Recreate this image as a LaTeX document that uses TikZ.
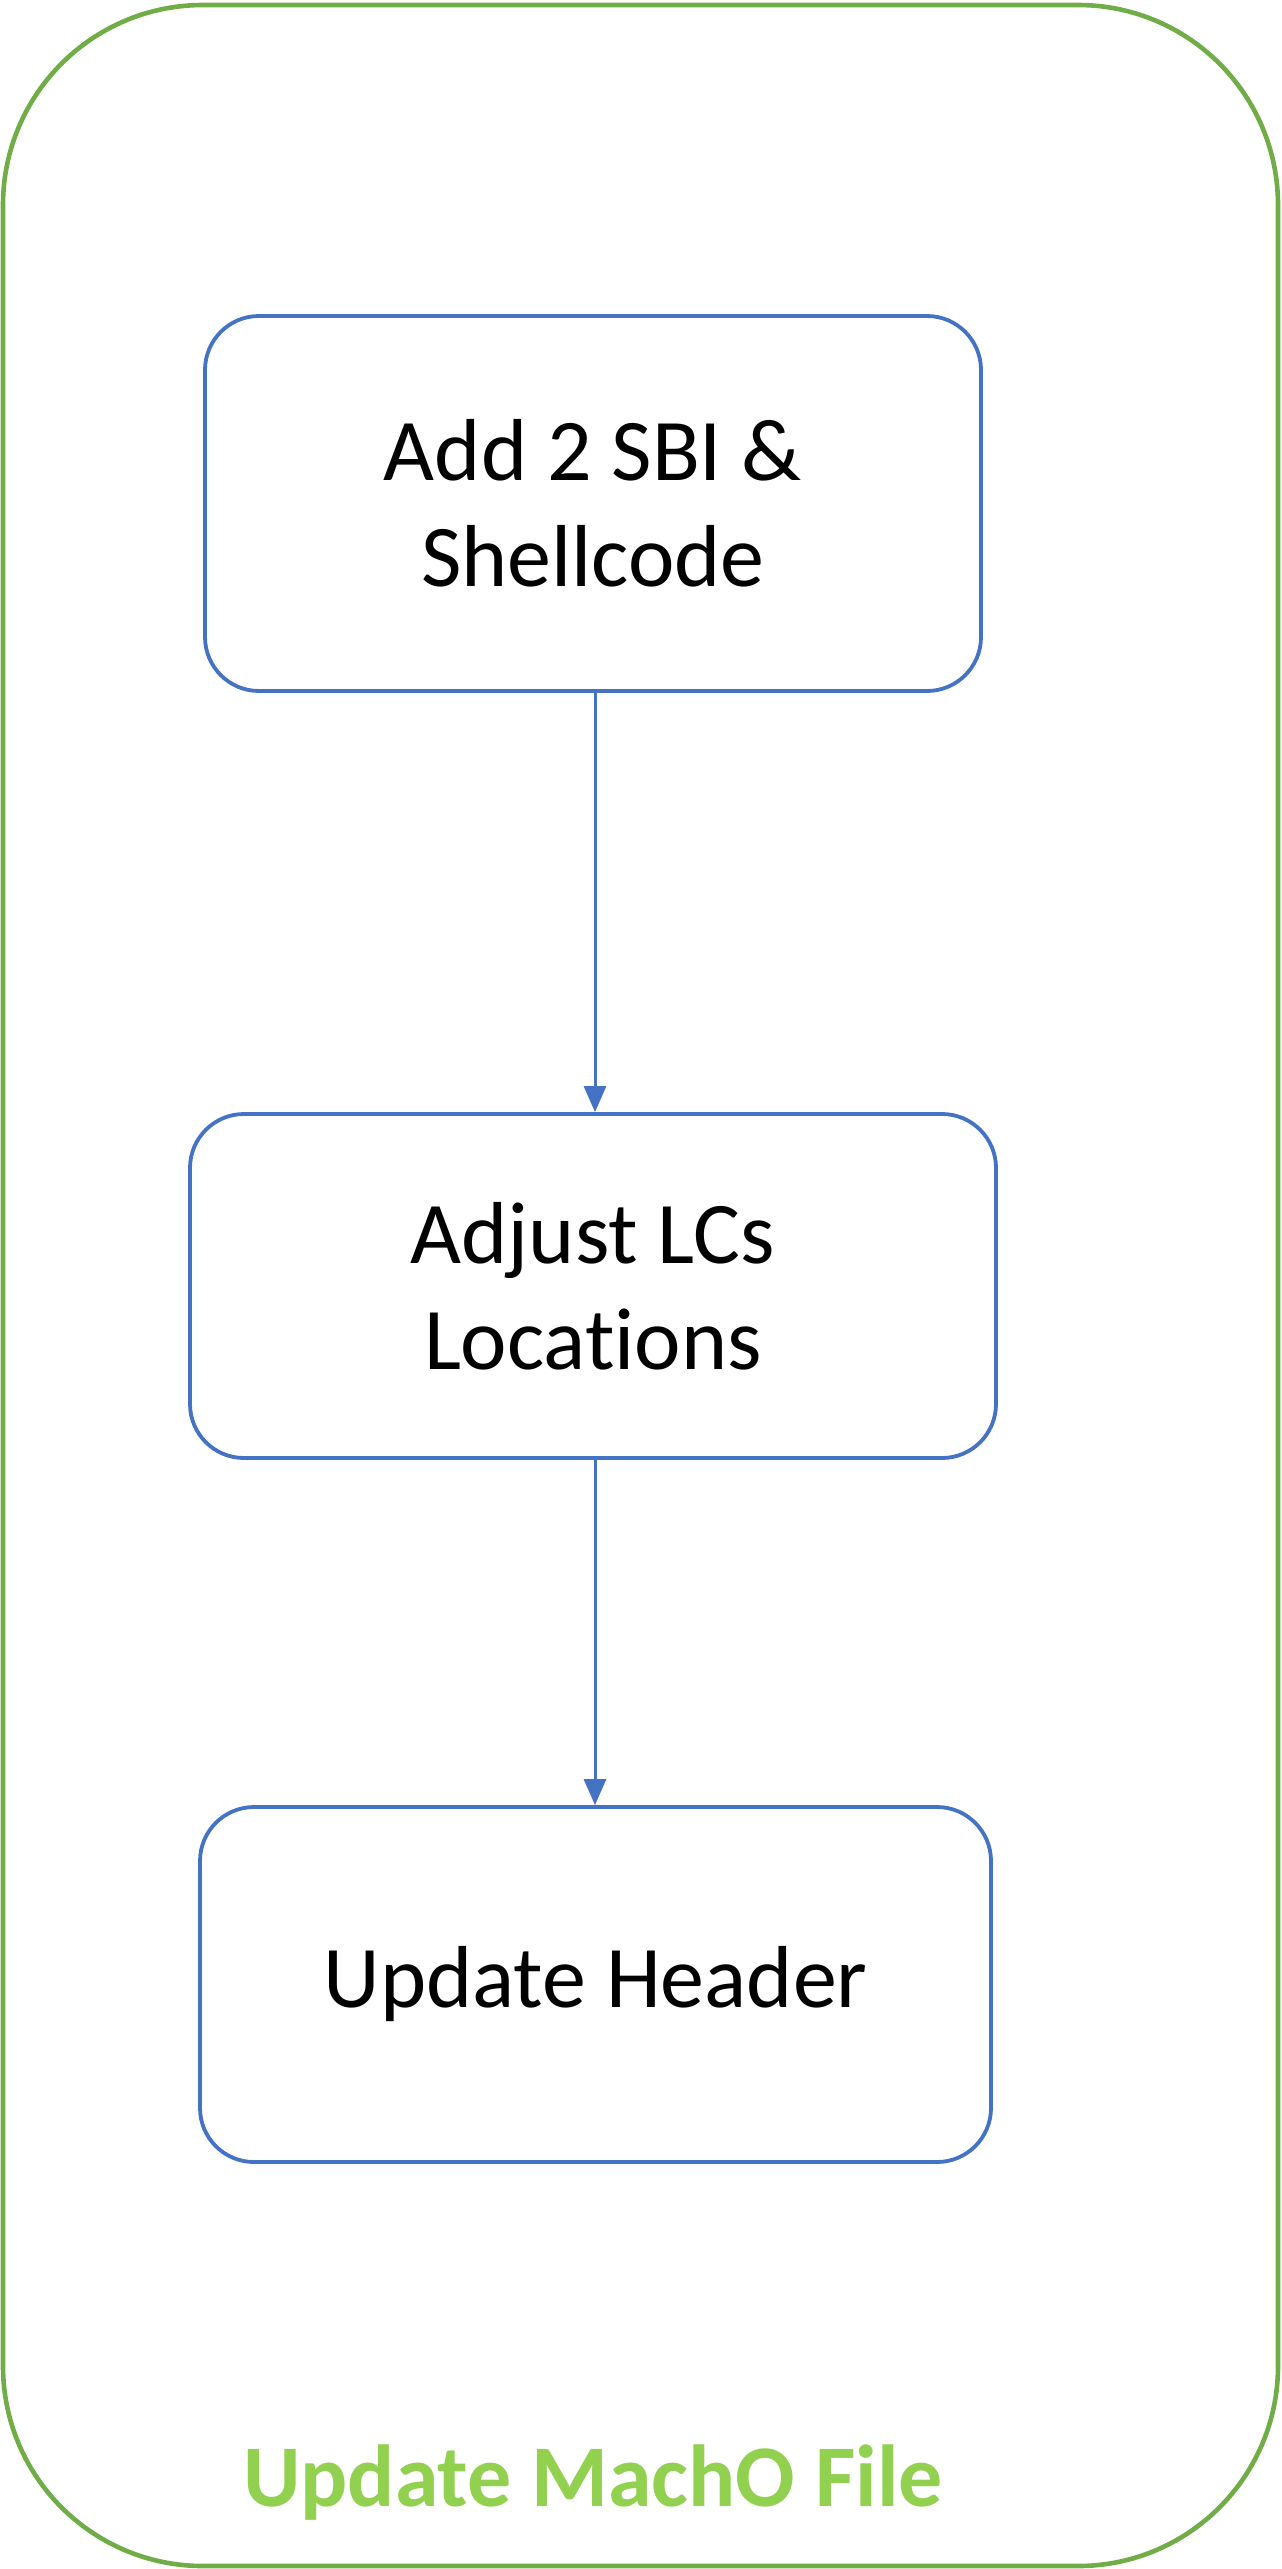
\documentclass[tikz,border=0pt]{standalone}
\usepackage{fontspec}
\setmainfont{Carlito}[Ligatures=NoCommon]
\usetikzlibrary{arrows.meta}
\definecolor{boxblue}{HTML}{4472C4}
\definecolor{framegreen}{HTML}{70AD47}
\definecolor{titlegreen}{HTML}{92D050}
\begin{document}
\begin{tikzpicture}[x=0.5pt,y=-0.5pt,
  stepbox/.style={draw=boxblue, line width=1.9pt, rounded corners=27pt, inner sep=0pt,
    align=center, font=\fontsize{44}{53}\selectfont, text=black},
  flow/.style={draw=boxblue, line width=1.5pt, -{Triangle[length=13pt,width=11pt]}},
  frame/.style={draw=framegreen, line width=2.3pt, rounded corners=100pt, inner sep=0pt}
]
\useasboundingbox (0,0) rectangle (1281,2569);
\node[frame, minimum width=637.5pt, minimum height=1280.5pt] (outer) at (640.5,1285.5) {};
\node[stepbox, minimum width=388pt, minimum height=187.5pt] (s1) at (593,503.5) {Add 2 SBI \&\\Shellcode};
\node[stepbox, minimum width=403pt, minimum height=172pt] (s2) at (593,1286) {Adjust LCs\\Locations};
\node[stepbox, minimum width=395.5pt, minimum height=177.5pt] (s3) at (595.5,1984.5) {Update Header};
\node[font=\bfseries\fontsize{44}{53}\selectfont, text=titlegreen] (title) at (593,2483) {Update MachO File};
\draw[flow] (s1.south -| 595,0) -- (s2.north -| 595,0);
\draw[flow] (s2.south -| 595,0) -- (s3.north -| 595,0);
\end{tikzpicture}
\end{document}
